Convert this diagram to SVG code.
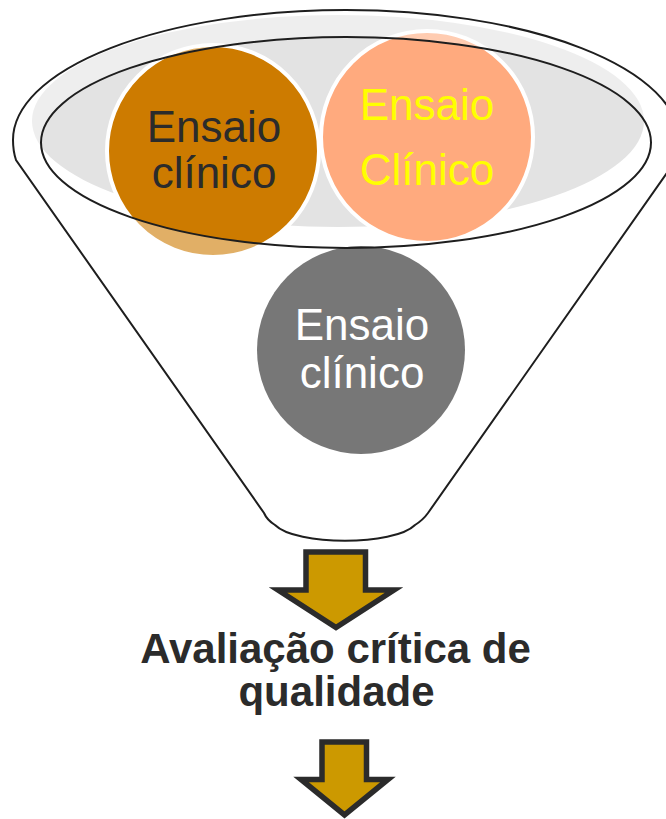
<svg xmlns="http://www.w3.org/2000/svg" width="666" height="819" viewBox="0 0 666 819">
<style>
.ct{font-family:"Liberation Sans",Arial,sans-serif;font-size:44px;text-anchor:middle}
.lbl{font-family:"Liberation Sans",Arial,sans-serif;font-size:42px;font-weight:bold;text-anchor:middle;fill:#2b2b2b}
.circ{stroke:#ffffff;stroke-width:4}
.arr{fill:#cc9900;stroke:#2b2b2b;stroke-width:5.5;stroke-linejoin:miter}
.line{fill:none;stroke:#1e1e1e;stroke-width:2}
</style>
<rect width="666" height="819" fill="#ffffff"/>
<g id="funnel-back">
<ellipse cx="338" cy="121" rx="306" ry="106" fill="#e3e3e3"/>
</g>
<g id="circle1">
<circle class="circ" cx="213" cy="151" r="106" fill="#cd7b00"/>
<text class="ct" x="214" y="142" fill="#2b2b2b">Ensaio</text>
<text class="ct" x="214" y="188" fill="#2b2b2b">clínico</text>
</g>
<g id="circle2">
<circle class="circ" cx="427" cy="137" r="106" fill="#ffaa7e"/>
<text class="ct" x="427" y="120" fill="#ffff00">Ensaio</text>
<text class="ct" x="427" y="185" fill="#ffff00">Clínico</text>
</g>
<g id="funnel-rim">
<path d="M13,140 A333,130 0 1 1 679,140 A333,130 0 1 1 13,140 Z M41,142.5 A305,105.5 0 1 0 651,142.5 A305,105.5 0 1 0 41,142.5 Z" fill="#ffffff" fill-opacity="0.4" fill-rule="evenodd"/>
</g>
<g id="circle3">
<circle cx="361" cy="350" r="104" fill="#777777"/>
<text class="ct" x="362" y="340" fill="#ffffff">Ensaio</text>
<text class="ct" x="362" y="388" fill="#ffffff">clínico</text>
</g>
<g id="funnel">
<ellipse class="line" cx="346" cy="142.5" rx="305" ry="105.5"/>
<path class="line" d="M13,140 A333,130 0 0 1 679,140 Q679,151 676,160 L428,513 Q423,520 415,525 C394,546 296,546 275,525 Q267,520 264,513 L16,160 Q13,151 13,140 Z"/>
</g>
<g id="connectors">
<polygon id="arrow1" class="arr" points="306,552 365.5,552 365.5,590 394,590 336,627.5 278,590 306,590"/>
<polygon id="arrow2" class="arr" points="322,742 366.5,742 366.5,779.5 388,779.5 344.5,815 301,779.5 322,779.5"/>
</g>
<g id="label">
<text class="lbl" x="335.5" y="663">Avaliação crítica de</text>
<text class="lbl" x="336.5" y="706">qualidade</text>
</g>
</svg>
